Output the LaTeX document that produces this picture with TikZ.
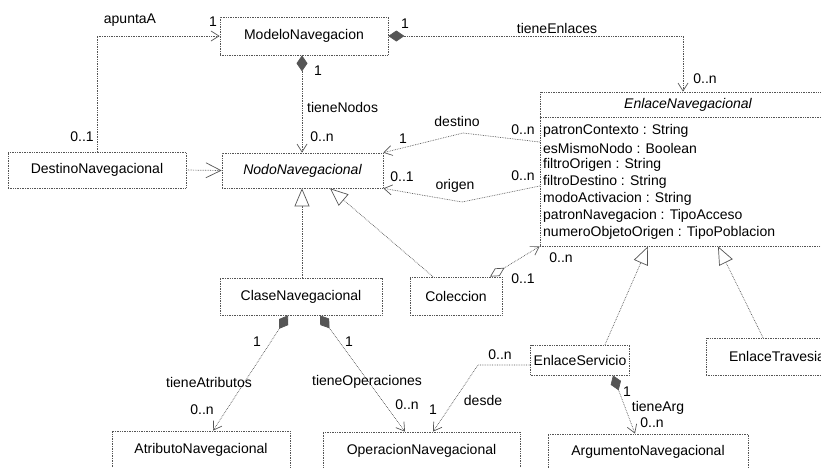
\documentclass[tikz,border=0pt]{standalone}
\usepackage{fontspec}
\setmainfont{Liberation Sans}
\usetikzlibrary{arrows.meta,calc}
\definecolor{umlgray}{HTML}{555555}
\newcommand{\umlfont}{\fontsize{14}{17}\selectfont}
\tikzset{
  umlclass/.style={draw=umlgray, densely dotted, line width=0.7pt, inner sep=0pt,
    font=\umlfont, text=black},
  umlline/.style={draw=umlgray, densely dotted, line width=0.7pt},
  umlnav/.style={umlline, -{Straight Barb[length=8pt,width=10pt]}},
  umlreal/.style={umlline, -{Straight Barb[length=15pt,width=15pt]}},
  umlgen/.style={umlline, -{Triangle[length=18pt,width=15pt,fill=white]}},
  umlcomp/.style={umlline, {Diamond[length=16pt,width=11pt]}-{Straight Barb[length=8pt,width=10pt]}},
  umlaggr/.style={umlline, {Diamond[length=17pt,width=9pt,fill=white]}-{Straight Barb[length=8pt,width=10pt]}},
  umllabel/.style={font=\umlfont, inner sep=0pt, text=black}
}

\begin{document}
\begin{tikzpicture}[x=1pt,y=-1pt]
  \useasboundingbox (0,0) rectangle (821,467);
  \clip (0,0) rectangle (821,467);
  % classes
  \node[umlclass, minimum width=168pt, minimum height=38pt] (modelo) at (304,36) {ModeloNavegacion};
  \node[umlclass, minimum width=161pt, minimum height=35pt, font=\umlfont\itshape] (nodo) at (302.5,170.5) {NodoNavegacional};
  \node[umlclass, minimum width=178pt, minimum height=36pt] (destino) at (97,170) {DestinoNavegacional};
  \node[umlclass, minimum width=296pt, minimum height=154pt] (enlace) at (688,169) {};
  \node[umllabel, font=\umlfont\itshape] (enlaceTitle) at (688,105) {EnlaceNavegacional};
  \draw[umlline] (enlace.west |- 0,117) -- (enlace.east |- 0,117);
  \foreach \i/\attr in {0/patronContexto : String, 1/esMismoNodo : Boolean,
      2/filtroOrigen : String, 3/filtroDestino : String, 4/modoActivacion : String,
      5/patronNavegacion : TipoAcceso, 6/numeroObjetoOrigen : TipoPoblacion} {
    \node[umllabel, anchor=west] (attr\i) at (543,{131+17*\i}) {\attr};
  }
  \node[umlclass, minimum width=162pt, minimum height=37pt] (clase) at (301,296.5) {ClaseNavegacional};
  \node[umlclass, minimum width=92pt, minimum height=38pt] (coleccion) at (456,296) {Coleccion};
  \node[umlclass, minimum width=99pt, minimum height=30pt] (servicio) at (580,360) {EnlaceServicio};
  \node[umlclass, minimum width=142pt, minimum height=37pt] (travesia) at (777,356.5) {EnlaceTravesia};
  \node[umlclass, minimum width=178pt, minimum height=37pt] (atributo) at (201,449.5) {AtributoNavegacional};
  \node[umlclass, minimum width=197pt, minimum height=37pt] (operacion) at (421.5,450.5) {OperacionNavegacional};
  \node[umlclass, minimum width=200pt, minimum height=36pt] (argumento) at (648,452) {ArgumentoNavegacional};

  % associations
  \draw[umlnav] (destino.north) |- (modelo.west);
  \draw[umlcomp] (modelo.south -| 302,0) -- (nodo.north -| 302,0);
  \draw[umlcomp] (modelo.east) -| ([xshift=-5pt]enlace.north);
  \draw[umlreal] (destino.east) -- (nodo.west);
  \coordinate (destinoPeak) at (463,133);
  \coordinate (origenDip) at (462,202);
  \draw[umlnav] ([yshift=27pt]enlace.west) -- (destinoPeak) -- (nodo.north east);
  \draw[umlnav] ([yshift=-17pt]enlace.west) -- (origenDip) -- (nodo.south east);
  \draw[umlaggr] ([xshift=34pt]coleccion.north) -- (enlace.south west);
  \draw[umlcomp] ([xshift=-13pt]clase.south) -- ([xshift=12pt]atributo.north);
  \draw[umlcomp] ([xshift=19pt]clase.south) -- ([xshift=-16.5pt]operacion.north);
  \coordinate (desdeKnee) at (478,365);
  \draw[umlnav] ([yshift=-5pt]servicio.west) -- (desdeKnee) -- ([xshift=11.5pt]operacion.north);
  \draw[umlcomp] ([xshift=33pt]servicio.south) -- ([xshift=-13pt]argumento.north);

  % generalizations
  \draw[umlgen] (clase.north -| 302,0) -- (nodo.south -| 302,0);
  \draw[umlgen] ([xshift=-23pt]coleccion.north) -- ([xshift=27.5pt]nodo.south);
  \draw[umlgen] ([xshift=25pt]servicio.north) -- ([xshift=-40pt]enlace.south);
  \draw[umlgen] ([xshift=-14pt]travesia.north) -- ([xshift=30pt]enlace.south);

  % role names and multiplicities
  \node[umllabel] (lApunta) at (130,20) {apuntaA};
  \node[umllabel] (mApuntaB) at (213,22) {1};
  \node[umllabel] (mApuntaA) at (82,137) {0..1};
  \node[umllabel] (mNodosA) at (318,71) {1};
  \node[umllabel, anchor=west] (lNodos) at (307,107) {tieneNodos};
  \node[umllabel] (mNodosB) at (322,137) {0..n};
  \node[umllabel] (mEnlacesA) at (405,24) {1};
  \node[umllabel] (lEnlaces) at (557,28) {tieneEnlaces};
  \node[umllabel] (mEnlacesB) at (705,79) {0..n};
  \node[umllabel] (lDestino) at (457,121) {destino};
  \node[umllabel] (mDestinoB) at (403,139) {1};
  \node[umllabel] (mDestinoA) at (523,130) {0..n};
  \node[umllabel] (mOrigenB) at (402,177) {0..1};
  \node[umllabel] (lOrigen) at (455,186) {origen};
  \node[umllabel] (mOrigenA) at (523,176) {0..n};
  \node[umllabel] (mColeccionB) at (561,258) {0..n};
  \node[umllabel] (mColeccionA) at (523,279) {0..1};
  \node[umllabel] (mAtribA) at (257,342) {1};
  \node[umllabel] (lAtrib) at (209,382) {tieneAtributos};
  \node[umllabel] (mAtribB) at (202,410) {0..n};
  \node[umllabel] (mOperA) at (349,342) {1};
  \node[umllabel] (lOper) at (367,382) {tieneOperaciones};
  \node[umllabel] (mOperB) at (407,405) {0..n};
  \node[umllabel] (mDesdeA) at (500,355) {0..n};
  \node[umllabel] (lDesde) at (483,400) {desde};
  \node[umllabel] (mDesdeB) at (433,410) {1};
  \node[umllabel] (mArgA) at (627,392) {1};
  \node[umllabel] (lArg) at (658,408) {tieneArg};
  \node[umllabel] (mArgB) at (652,423) {0..n};
\end{tikzpicture}
\end{document}
